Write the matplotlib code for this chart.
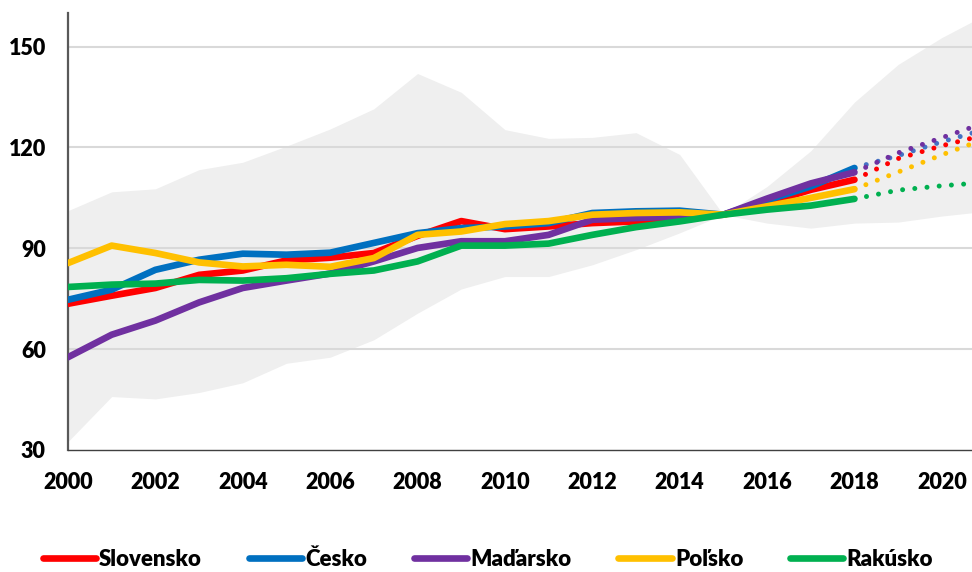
import numpy as np
import matplotlib
matplotlib.use("Agg")
import matplotlib.pyplot as plt

plt.rcParams['font.family'] = ['Lato', 'DejaVu Sans']
plt.rcParams['font.weight'] = 'bold'

# years
years = list(range(2000, 2022))
years_hist = list(range(2000, 2019))
years_proj = list(range(2018, 2022))

# grey band (range of countries)
band_hi = [101.2, 106.8, 107.7, 113.4, 115.6, 120.4, 125.5, 131.5, 142.0, 136.4, 125.3,
           122.7, 123.0, 124.4, 117.9, 100.0, 108.4, 119.0, 133.5, 144.7, 152.7, 159.5]
band_lo = [32.5, 45.9, 45.2, 47.1, 50.0, 55.8, 57.6, 62.8, 70.7, 77.9, 81.6,
           81.6, 85.1, 89.6, 94.6, 100.0, 97.5, 96.0, 97.5, 97.8, 99.6, 101.0]

names = ['Slovensko', 'Česko', 'Maďarsko', 'Poľsko', 'Rakúsko']
colors = ['#ff0000', '#0070c0', '#7030a0', '#ffc000', '#00b050']
proj_colors = ['#ff0000', '#4472c4', '#7030a0', '#ffc000', '#00b050']

sk = [73.5, 75.9, 78.2, 82.1, 83.4, 86.4, 87.2, 88.6, 93.7, 98.1, 95.7,
      96.5, 97.5, 98.0, 99.3, 100.0, 103.5, 107.4, 110.4]
cz = [74.7, 77.7, 83.6, 86.6, 88.4, 88.1, 88.7, 91.6, 94.5, 96.0, 96.5,
      97.5, 100.5, 101.0, 101.2, 100.0, 104.3, 108.4, 113.9]
hu = [57.6, 64.3, 68.5, 73.9, 78.2, 80.4, 82.5, 86.1, 90.1, 92.1, 92.1,
      94.0, 98.5, 99.0, 99.5, 100.0, 104.8, 109.3, 112.6]
pl = [85.6, 90.8, 88.6, 85.8, 84.6, 85.1, 84.5, 87.1, 94.0, 95.0, 97.2,
      98.1, 100.0, 100.5, 100.7, 100.0, 102.5, 105.0, 107.6]
at = [78.5, 79.2, 79.5, 80.6, 80.4, 81.1, 82.4, 83.4, 86.1, 90.8, 90.8,
      91.4, 94.0, 96.3, 98.0, 100.0, 101.5, 102.7, 104.7]

sk_proj = [110.4, 116.7, 120.5, 123.8]
cz_proj = [113.9, 117.6, 121.7, 125.4]
hu_proj = [112.6, 118.4, 122.9, 127.4]
pl_proj = [107.6, 112.7, 117.8, 122.6]
at_proj = [104.7, 107.3, 108.6, 109.6]

hist = [sk, cz, hu, pl, at]
proj = [sk_proj, cz_proj, hu_proj, pl_proj, at_proj]

fig = plt.figure(figsize=(9.72, 5.72), dpi=100)
ax = fig.add_axes([68 / 972, 1 - 450 / 572, (972 - 68) / 972, (450 - 13) / 572])

ax.fill_between(years, band_lo, band_hi, color='#efefef', lw=0, zorder=1)

for v in [60, 90, 120, 150]:
    ax.axhline(v, color='#d9d9d9', lw=1.5, zorder=1.5)

for vals, c, n in zip(hist, colors, names):
    ax.plot(years_hist, vals, color=c, lw=4.8, solid_capstyle='round',
            solid_joinstyle='round', label=n, zorder=3)

for vals, c in zip(proj, proj_colors):
    ax.plot(years_proj, vals, color=c, lw=3.6, linestyle=(0, (0.001, 2.45)),
            dash_capstyle='round', zorder=2.5)

ax.set_xlim(2000, 2020.69)
ax.set_ylim(30, 160)
ax.set_xticks(range(2000, 2021, 2))
ax.set_yticks([30, 60, 90, 120, 150])
ax.tick_params(axis='both', length=0, labelsize=15.5)
ax.tick_params(axis='y', pad=16)
ax.tick_params(axis='x', pad=16)
for lab in ax.get_xticklabels() + ax.get_yticklabels():
    lab.set_fontweight('heavy')

for s in ['top', 'right']:
    ax.spines[s].set_visible(False)
ax.spines['left'].set_color('#595959')
ax.spines['left'].set_linewidth(1.6)
ax.spines['bottom'].set_color('#404040')
ax.spines['bottom'].set_linewidth(1.0)

fig.legend(loc='center', bbox_to_anchor=(0.502, 0.022), ncol=5, frameon=False,
           prop={'size': 16, 'weight': 'heavy'}, handlelength=2.4,
           handletextpad=0.15, columnspacing=2.1)

fig.savefig('out.png', dpi=100)
